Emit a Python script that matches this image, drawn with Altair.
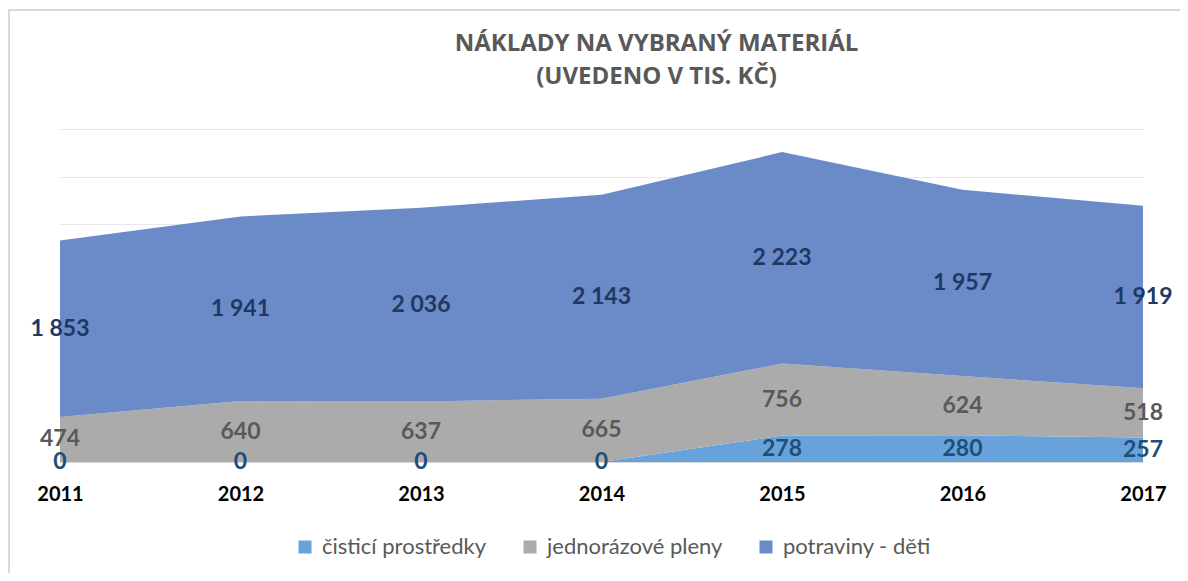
import altair as alt
import pandas as pd

years = [2011, 2012, 2013, 2014, 2015, 2016, 2017]
series = ["čisticí prostředky", "jednorázové pleny", "potraviny - děti"]
cistici = [0, 0, 0, 0, 278, 280, 257]
pleny = [474, 640, 637, 665, 756, 624, 518]
potraviny = [1853, 1941, 2036, 2143, 2223, 1957, 1919]
fill_colors = ["#62a0d9", "#a8a8a8", "#6586c6"]
label_colors = ["#1f4e79", "#595959", "#203864"]
title_lines = ["NÁKLADY NA VYBRANÝ MATERIÁL", "(UVEDENO V TIS. KČ)"]
grid_values = [0, 500, 1000, 1500, 2000, 2500, 3000, 3500]

rows = []
for k, vals in enumerate([cistici, pleny, potraviny]):
    for yr, v in zip(years, vals):
        rows.append({"year": yr, "series": series[k], "ord": k, "value": v})
df = pd.DataFrame(rows)

x_enc = alt.X(
    "year:Q",
    scale=alt.Scale(domain=[2011, 2017], nice=False, zero=False),
    axis=alt.Axis(values=years, format="d", title=None, ticks=False, grid=False,
                  labelFont="Lato", labelFontWeight="bold", labelFontSize=20,
                  labelColor="#000000", labelPadding=22, labelFlush=False,
                  labelOverlap=False, domainColor="#d9d9d9", domainWidth=1),
)
y_scale = alt.Scale(domain=[0, 3500], nice=False)
y_axis = alt.Axis(values=grid_values, labels=False, ticks=False, domain=False,
                  grid=True, gridColor="#e8e8e8", gridWidth=1, title=None)

border = alt.Chart(pd.DataFrame({"d": [0]})).mark_rect(
    fill="transparent", stroke="#d9d9d9", strokeWidth=2
).encode(x=alt.value(-51), x2=alt.value(2000), y=alt.value(-119), y2=alt.value(2000))

base = alt.Chart(df)

area = base.mark_area(opacity=0.97).encode(
    x=x_enc,
    y=alt.Y("value:Q", stack="zero", scale=y_scale, axis=y_axis),
    color=alt.Color(
        "series:N",
        scale=alt.Scale(domain=series, range=fill_colors),
        legend=alt.Legend(
            title=None, orient="none", direction="horizontal",
            legendX=234, legendY=407, symbolType="square", symbolSize=169,
            symbolStrokeWidth=0, labelFont="Lato", labelFontSize=22,
            labelColor="#595959", columnPadding=32, labelOffset=6,
            labelLimit=400,
        ),
    ),
    order=alt.Order("ord:Q", sort="ascending"),
)

labels = base.transform_stack(
    stack="value", groupby=["year"], as_=["y0", "y1"],
    sort=[alt.SortField("ord", order="ascending")],
).transform_calculate(
    mid="(datum.y0 + datum.y1) / 2",
    label="replace(format(datum.value, ','), ',', ' ')",
).mark_text(
    font="Lato", fontWeight="bold", fontSize=23, baseline="middle", align="center"
).encode(
    x=x_enc,
    y=alt.Y("mid:Q", scale=y_scale, axis=y_axis),
    text="label:N",
    color=alt.Color("series:N", scale=alt.Scale(domain=series, range=label_colors), legend=None),
)

chart = alt.layer(border, area, labels).resolve_scale(color="independent").properties(
    width=1083,
    height=333,
    autosize=alt.AutoSizeParams(type="none"),
    padding={"left": 52, "top": 121, "right": 37, "bottom": 111},
    title=alt.Title(
        text=title_lines, font="Open Sans", fontSize=24, fontWeight="bold",
        color="#595959", anchor="middle", dx=55, offset=0, dy=80, lineHeight=33,
    ),
).configure_view(strokeWidth=0)

chart.save("out.html", embed_options={"renderer": "svg", "actions": False})
